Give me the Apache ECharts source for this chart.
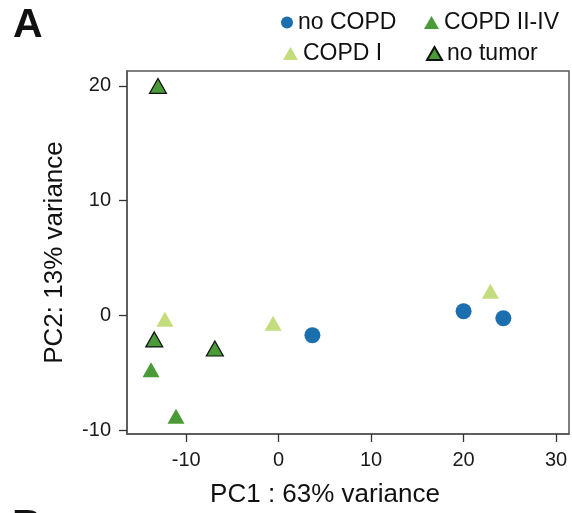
<!DOCTYPE html>
<html>
<head>
<meta charset="utf-8">
<script src="https://cdn.jsdelivr.net/npm/echarts@6/dist/echarts.min.js"></script>
<style>
  html, body { margin: 0; padding: 0; background: #fff; }
  #main { width: 572px; height: 513px; }
</style>
</head>
<body>
<div id="main"></div>
<script>
// PCA scores
var noCopdX = [3.65, 20.0, 24.3];
var noCopdY = [-1.74, 0.35, -0.26];
var copdIX = [22.9, -12.3, -0.6];
var copdIY = [2.1, -0.35, -0.7];
var copdIIX = [-13.8, -11.1];
var copdIIY = [-4.74, -8.8];
var noTumorX = [-13.05, -13.45, -6.9];
var noTumorY = [20.0, -2.1, -2.9];

var xTicks = [-10, 0, 10, 20, 30];
var yTicks = [-10, 0, 10, 20];

function pairs(xs, ys) {
    return xs.map(function (x, i) { return [x, ys[i]]; });
}

var font = 'Liberation Sans, Arial, Helvetica, sans-serif';
var blue = '#1b6fae';
var lightGreen = '#c3dc7c';
var green = '#4a9a37';
var frame = '#555';

var chart = echarts.init(document.getElementById('main'));

function legendAt(name, left, top, w, h) {
    return {
        data: [name],
        left: left,
        top: top,
        itemWidth: w,
        itemHeight: h,
        padding: 0,
        selectedMode: false,
        textStyle: { fontSize: 23, color: '#111', fontFamily: font }
    };
}

var axisCommon = {
    type: 'value',
    nameLocation: 'middle',
    nameTextStyle: { fontSize: 26, color: '#111' },
    axisLine: { show: true, onZero: false, lineStyle: { color: frame, width: 1.5 } },
    splitLine: { show: false }
};

chart.setOption({
    animation: false,
    textStyle: { fontFamily: font },
    graphic: [
        { type: 'text', left: 13, top: 5, style: { text: 'A', font: 'bold 41px ' + font, fill: '#111' } },
        { type: 'text', left: 12, top: 506, style: { text: 'B', font: 'bold 41px ' + font, fill: '#111' } }
    ],
    legend: [
        legendAt('no COPD', 281, 11, 12, 12),
        legendAt('COPD II-IV', 424, 11, 15, 13),
        legendAt('COPD I', 283, 42, 15, 13),
        legendAt('no tumor', 426, 42, 15, 13)
    ],
    grid: {
        left: 127,
        top: 71,
        right: 3,
        bottom: 78,
        show: true,
        borderColor: frame,
        borderWidth: 1.5
    },
    xAxis: Object.assign({}, axisCommon, {
        min: -16.4,
        max: 31.4,
        name: 'PC1 : 63% variance',
        nameGap: 48,
        nameTextStyle: { fontSize: 26, color: '#111', padding: [0, 46, 0, 0] },
        axisTick: { show: true, inside: false, length: 8, customValues: xTicks, lineStyle: { color: '#333', width: 1.3 } },
        axisLabel: { customValues: xTicks, fontSize: 20, color: '#1a1a1a', margin: 16 }
    }),
    yAxis: Object.assign({}, axisCommon, {
        min: -10.35,
        max: 21.3,
        name: 'PC2: 13% variance',
        nameGap: 59,
        axisTick: { show: true, inside: false, length: 8, customValues: yTicks, lineStyle: { color: '#333', width: 1.3 } },
        axisLabel: { customValues: yTicks, fontSize: 20, color: '#1a1a1a', margin: 16 }
    }),
    series: [
        {
            name: 'no COPD',
            type: 'scatter',
            symbol: 'circle',
            symbolSize: 16,
            itemStyle: { color: blue, opacity: 1 },
            data: pairs(noCopdX, noCopdY)
        },
        {
            name: 'COPD II-IV',
            type: 'scatter',
            symbol: 'triangle',
            symbolSize: [17, 15],
            itemStyle: { color: green, opacity: 1 },
            data: pairs(copdIIX, copdIIY)
        },
        {
            name: 'COPD I',
            type: 'scatter',
            symbol: 'triangle',
            symbolSize: [17, 15],
            itemStyle: { color: lightGreen, opacity: 1 },
            data: pairs(copdIX, copdIY)
        },
        {
            name: 'no tumor',
            type: 'scatter',
            symbol: 'triangle',
            symbolSize: [17, 15],
            itemStyle: { color: green, borderColor: '#111', borderWidth: 1.2, opacity: 1 },
            data: pairs(noTumorX, noTumorY)
        }
    ]
});
</script>
</body>
</html>
